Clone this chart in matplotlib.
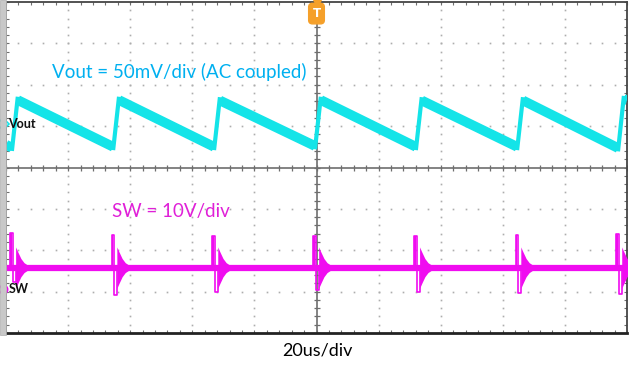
import matplotlib
matplotlib.use('Agg')
import matplotlib.pyplot as plt
import numpy as np
from matplotlib.patches import Rectangle

# scope screen: 10 div x 20 us, 8 div vertical
edge_us = [1.9, 34.5, 67.0, 99.5, 132.0, 164.6, 197.1]   # switching instants
vout_low = [0.48, 0.50, 0.50, 0.52, 0.50, 0.50, 0.47]     # div, ramp bottom
vout_high = [1.63, 1.63, 1.62, 1.63, 1.62, 1.62, 1.65]    # div, ramp top
vout_start = 0.55
sw_base = -2.42
sw_hi = [-1.58, -1.62, -1.65, -1.65, -1.65, -1.62, -1.60]
sw_lo = [-2.77, -3.08, -3.00, -2.95, -3.00, -3.04, -3.05]
ring_t = [0.0, 0.7, 1.7, 2.7, 3.7]        # us after pulse
ring_amp = [0.50, 0.38, 0.22, 0.12, 0.07]  # div half-width

CYAN = '#14e4e8'
MAG = '#f00cf0'

fig = plt.figure(figsize=(6.31, 3.66), dpi=100)
ax = fig.add_axes([6/631, (366-333)/366, 621/631, 331/366])
ax.set_xlim(0, 200)
ax.set_ylim(-4, 4)

# left gray bar of the scope screen
fig.patches.append(Rectangle((0, (366-335)/366), 5.5/631, 335/366, transform=fig.transFigure,
                             facecolor='#c8c8c8', edgecolor='#b0b0b0', lw=0.5, zorder=0))

# dotted grid
minor_x = np.arange(0, 200.1, 4)
minor_y = np.arange(-4, 4.01, 0.2)
for gx in range(20, 200, 20):
    if gx == 100:
        continue
    ax.plot([gx]*len(minor_y), minor_y, ls='none', marker='s', ms=1.2, mew=0, color='#adadad', zorder=1)
for gy in [-3, -2, -1, 1, 2, 3]:
    ax.plot(minor_x, [gy]*len(minor_x), ls='none', marker='s', ms=1.2, mew=0, color='#adadad', zorder=1)

# center cross with ticks
ax.axvline(100, color='#6e6e6e', lw=1.2, zorder=1)
ax.axhline(0, color='#6e6e6e', lw=1.2, zorder=1)
ax.plot(minor_x, [0]*len(minor_x), ls='none', marker='|', ms=5, mew=0.9, color='#6e6e6e', zorder=1)
ax.plot([100]*len(minor_y), minor_y, ls='none', marker='_', ms=5, mew=0.9, color='#6e6e6e', zorder=1)

ax.set_xticks(np.arange(0, 201, 20))
ax.set_yticks(np.arange(-4, 4.1, 1))
ax.set_xticks(minor_x, minor=True)
ax.set_yticks(minor_y, minor=True)
ax.tick_params(which='both', direction='in', length=2.5, width=0.8, color='#6e6e6e',
               top=True, right=True, labelbottom=False, labelleft=False)
for s in ax.spines.values():
    s.set_color('#444444')
    s.set_linewidth(1.3)
ax.spines['bottom'].set_linewidth(2)
ax.spines['bottom'].set_color('#222222')

# Vout sawtooth: thick noisy ramps, thin fast rises
ramp_start = [(0.0, vout_start)] + [(e + 1.9, hi) for e, hi in zip(edge_us, vout_high)]
ramp_end = [(e, lo) for e, lo in zip(edge_us, vout_low)] + [(200, vout_high[-1] - 0.02)]
for (x0, y0), (x1, y1) in zip(ramp_start, ramp_end):
    ax.plot([x0, x1], [y0, y1], color=CYAN, lw=7, solid_capstyle='butt', zorder=3)
for e, lo, hi in zip(edge_us, vout_low, vout_high):
    ax.plot([e, e + 1.9], [lo - 0.08, hi + 0.08], color=CYAN, lw=3, solid_capstyle='butt', zorder=3)

# SW node
ax.plot([0, 200], [sw_base, sw_base], color=MAG, lw=4.5, solid_capstyle='butt', zorder=3)
for e, hi, lo in zip(edge_us, sw_hi, sw_lo):
    px = [e - 0.5, e - 0.5, e + 0.4, e + 0.4, e + 1.2, e + 1.2]
    py = [sw_base, hi, hi, lo, lo, sw_base]
    ax.plot(px, py, color=MAG, lw=1.2, zorder=4)
    ax.fill_between([e - 0.5, e + 0.1], [sw_base, sw_base], [hi, hi], color=MAG, lw=0, zorder=4)
    rt = [e + 1.2 + t for t in ring_t]
    ax.fill_between(rt, [sw_base + a for a in ring_amp], [sw_base - a for a in ring_amp],
                    color=MAG, lw=0, zorder=4)

# channel labels and markers
ax.text(0.8, 1.04, 'Vout', fontsize=9, fontweight='bold', family='Lato', color='#111111',
        ha='left', va='center', zorder=5)
ax.text(0.8, -2.93, 'SW', fontsize=9, fontweight='bold', family='Lato', color='#111111',
        ha='left', va='center', zorder=5)
ax.plot([-0.9], [1.04], marker='D', ms=6, mfc='white', mec=CYAN, mew=1.2, clip_on=False, zorder=6)
ax.plot([-0.9], [-2.93], marker='o', ms=6, mfc='white', mec=MAG, mew=1.2, clip_on=False, zorder=6)

# trigger marker
ax.plot([100], [3.97], marker='v', ms=6, color='#f5a02a', clip_on=False, zorder=6)
ax.text(100, 3.72, 'T', fontsize=8.5, fontweight='bold', color='white', ha='center', va='center',
        bbox=dict(boxstyle='round,pad=0.32', fc='#f5a02a', ec='#f5a02a'), zorder=7)

fig.text(0.284, 1 - 72/366, 'Vout = 50mV/div (AC coupled)', family='Lato',
         fontsize=13.5, color='#00b0f0', ha='center', va='center', zorder=8)
fig.text(0.271, 1 - 212/366, 'SW = 10V/div', family='Lato',
         fontsize=13.5, color='#e020d8', ha='center', va='center', zorder=8)
fig.text(0.503, 1 - 350/366, '20us/div', family='Lato', fontsize=13, color='black',
         ha='center', va='center')

fig.savefig('out.png', dpi=100)
